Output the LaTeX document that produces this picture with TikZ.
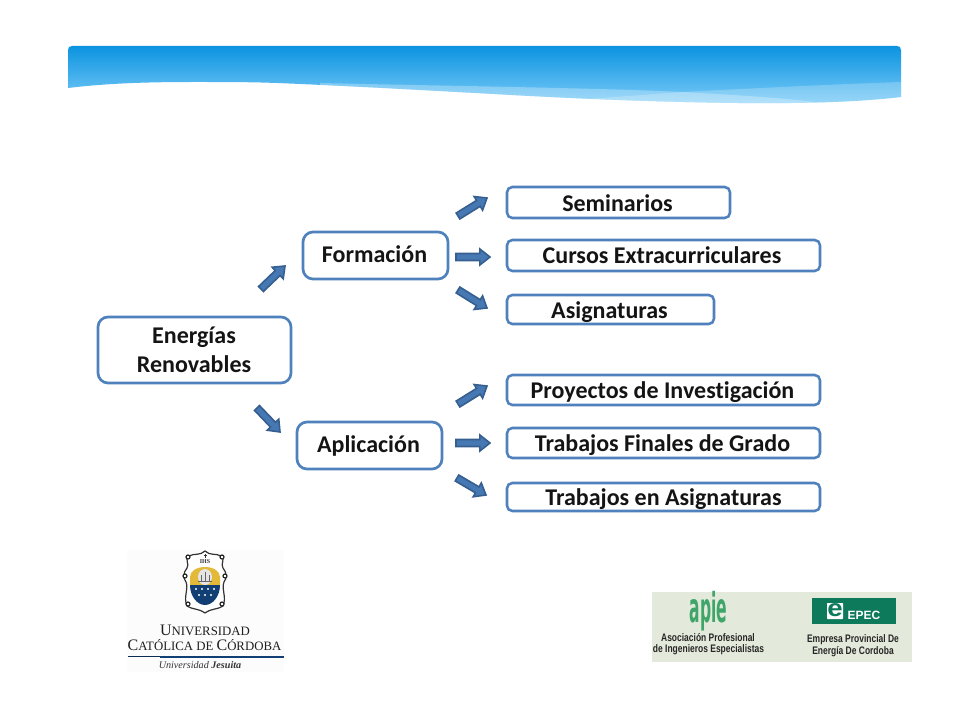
\documentclass[tikz,border=0pt]{standalone}
\usepackage{fontspec}
\setmainfont[Ligatures=NoCommon]{Carlito}
\newfontfamily\serifsc{Liberation Serif}
\newfontfamily\logosans{Liberation Sans}
\newfontfamily\logoheavy{DejaVu Sans}
\usetikzlibrary{calc,shadings}
\definecolor{boxblue}{HTML}{4F81BD}
\definecolor{arrowline}{HTML}{365F8F}
\definecolor{arrowfill}{HTML}{4678B4}
\definecolor{hdrtop}{HTML}{0B93E0}
\definecolor{hdrbot}{HTML}{7ACBF8}
\definecolor{logobg}{HTML}{E4EADB}
\definecolor{apiegreen}{HTML}{3FA568}
\definecolor{epecgreen}{HTML}{0E7A5C}
\definecolor{navy}{HTML}{123F73}
\definecolor{gold}{HTML}{E3B93A}
\tikzset{
  px/.style={x=0.75pt,y=-0.75pt},
  rbox/.style={draw=boxblue,line width=2pt,fill=white,rounded corners=7.5pt,inner sep=0pt,outer sep=0pt},
  sbox/.style={rbox,rounded corners=4pt,line width=1.9pt},
  lbl/.style={font=\fontsize{18}{21.7}\selectfont\bfseries,text=black!92,inner sep=0pt},
  blockfill/.style={draw=arrowline,line width=1.2pt,fill=arrowfill},
  logotxt/.style={font=\logosans\bfseries\fontsize{8.2}{9}\selectfont,text=black!85,inner sep=0pt,xscale=0.775},
}
% block arrow between two named coordinates
\newcommand{\blockarrow}[2]{%
  \path let \p1=($(#2)-(#1)$),\n1={atan2(\y1,\x1)},\n2={veclen(\x1,\y1)} in
    [shift={(#1)}]
    [rotate=\n1]
    coordinate (ba1) at (0pt,2.6pt)
    coordinate (ba2) at ({\n2-7.6pt},2.6pt)
    coordinate (ba3) at ({\n2-7.6pt},6pt)
    coordinate (ba4) at (\n2,0pt)
    coordinate (ba5) at ({\n2-7.6pt},-6pt)
    coordinate (ba6) at ({\n2-7.6pt},-2.6pt)
    coordinate (ba7) at (0pt,-2.6pt);
  \draw[blockfill,line join=miter] (ba1)--(ba2)--(ba3)--(ba4)--(ba5)--(ba6)--(ba7)--cycle;
}
\newcommand{\pxbox}[6]{% name,x1,y1,x2,y2,style
  \node[#6,minimum width={(#4-#2)*0.75pt},minimum height={(#5-#3)*0.75pt},anchor=north west] (#1) at (#2,#3) {};
}
\newcommand{\hdrpath}{(68,88) .. controls (110,83) and (150,82) .. (195,82)
  .. controls (225,82) and (250,82) .. (277,83)
  .. controls (350,86) and (420,90) .. (494,94)
  .. controls (580,99) and (660,102) .. (737,103)
  .. controls (790,103.5) and (850,103) .. (901,97)
  -- (901,50) .. controls (901,47.5) and (899.5,46) .. (897,46) -- (72,46)
  .. controls (69.5,46) and (68,47.5) .. (68,50) -- cycle}
\begin{document}
\begin{tikzpicture}[px]
\useasboundingbox (0,0) rectangle (960,720);
\fill[white] (0,0) rectangle (960,720);

% header band
\path[top color=hdrtop,bottom color=hdrbot] \hdrpath;
\begin{scope}
\clip \hdrpath;
\fill[white,opacity=0.28] (320,83) .. controls (450,86) and (600,88) .. (683,92)
  .. controls (730,95) and (780,97) .. (830,104) -- (320,110) -- cycle;
\fill[white,opacity=0.22] (560,101) -- (683,92) .. controls (760,88) and (840,84) .. (901,82) -- (901,110) -- (560,110) -- cycle;
\end{scope}

% boxes
\pxbox{ener}{98}{317}{291}{383}{rbox}
\pxbox{form}{303}{232}{448}{279}{rbox}
\pxbox{apli}{297}{422}{442}{469}{rbox}
\pxbox{semi}{507}{187}{730}{218}{sbox}
\pxbox{curs}{507}{240}{820}{271}{sbox}
\pxbox{asig}{507}{295}{714}{324}{sbox}
\pxbox{proy}{507}{375}{820}{405}{sbox}
\pxbox{tfin}{507}{428}{820}{458}{sbox}
\pxbox{tasi}{507}{483}{820}{511}{sbox}

\node[lbl,align=center] at ($(ener.center)+(-0.5,0)$) {Energías\\Renovables};
\node[lbl] at ($(form.center)+(-1,-1)$) {Formación};
\node[lbl] at ($(apli.center)+(-1,0)$) {Aplicación};
\node[lbl] at ($(semi.center)+(-1,1)$) {Seminarios};
\node[lbl] at ($(curs.center)+(-1.5,0)$) {Cursos Extracurriculares};
\node[lbl] at ($(asig.center)+(-1,2.5)$) {Asignaturas};
\node[lbl] at ($(proy.center)+(-1,2)$) {Proyectos de Investigación};
\node[lbl] at ($(tfin.center)+(-1,2)$) {Trabajos Finales de Grado};
\node[lbl] at ($(tasi.center)+(0,2)$) {Trabajos en Asignaturas};

% arrows
\coordinate (a1s) at (261,289); \coordinate (a1e) at (285,266);
\coordinate (a2s) at (257,408); \coordinate (a2e) at (280,432);
\coordinate (b1s) at (458,216); \coordinate (b1e) at (487,198);
\coordinate (b2s) at (456,257); \coordinate (b2e) at (490,257);
\coordinate (b3s) at (458,290); \coordinate (b3e) at (487,308);
\coordinate (c1s) at (458,404); \coordinate (c1e) at (487,386);
\coordinate (c2s) at (456,443); \coordinate (c2e) at (490,443);
\coordinate (c3s) at (457,478); \coordinate (c3e) at (486,495);
\blockarrow{a1s}{a1e}\blockarrow{a2s}{a2e}
\blockarrow{b1s}{b1e}\blockarrow{b2s}{b2e}\blockarrow{b3s}{b3e}
\blockarrow{c1s}{c1e}\blockarrow{c2s}{c2e}\blockarrow{c3s}{c3e}

% UCC logo
\fill[black!1] (127,550) rectangle (284,672);
\draw[black!80,line width=0.9pt,fill=white]
  (205,551) .. controls (200,556) and (194,553) .. (189,556)
  .. controls (184,559) and (190,564) .. (187,568)
  .. controls (183,573) and (183,578) .. (186,582)
  .. controls (189,590) and (183,596) .. (187,606)
  .. controls (193,610) and (198,608) .. (205,613)
  .. controls (212,608) and (217,610) .. (223,606)
  .. controls (227,596) and (221,590) .. (224,582)
  .. controls (227,578) and (227,573) .. (223,568)
  .. controls (220,564) and (226,559) .. (221,556)
  .. controls (216,553) and (210,556) .. (205,551) -- cycle;
\foreach \cx/\cy in {188/557,222/557,185/576,225/576,188/604,222/604}
  \draw[black!85,line width=0.9pt,fill=white] (\cx,\cy) circle (2);
\fill[gold] (190,585) -- (190,577) .. controls (190,571) and (197,567) .. (205,567)
  .. controls (213,567) and (220,571) .. (220,577) -- (220,585) -- cycle;
\fill[black!10] (205,577) ellipse (7 and 8);
\draw[black!60,line width=0.4pt] (198,581) -- (212,581) (201,575) -- (201,581) (205,572) -- (205,581) (209,575) -- (209,581);
\fill[navy] (190,585) -- (220,585) .. controls (220,596) and (213,605) .. (205,605)
  .. controls (197,605) and (190,596) .. (190,585) -- cycle;
\foreach \sx/\sy in {196/589,202/589,208/589,214/589,199/595,205/595,211/595}
  \fill[white] (\sx,\sy) circle (1.2);
\node[font=\serifsc\bfseries\fontsize{4.5}{5}\selectfont,inner sep=0pt,text=black!80] at (205,562) {IHS};
\draw[black!80,line width=0.5pt] (205,553.5) -- (205,558) (203.5,555) -- (206.5,555);
\node[font=\serifsc,inner sep=0pt,text=black!88] (uni) at (205,630)
  {{\fontsize{12}{13}\selectfont U}{\fontsize{9.6}{13}\selectfont NIVERSIDAD}};
\node[font=\serifsc,inner sep=0pt,text=black!88] (cat) at (204.5,645.5)
  {{\fontsize{12}{13}\selectfont C}{\fontsize{9.6}{13}\selectfont ATÓLICA DE }{\fontsize{12}{13}\selectfont C}{\fontsize{9.6}{13}\selectfont ÓRDOBA}};
\fill[navy!70!black] (128,656.3) rectangle (160,657.3);
\fill[navy] (160,655.8) rectangle (284,657.8);
\node[font=\serifsc\itshape\fontsize{7.6}{10}\selectfont,inner sep=0pt,text=black!80] at (200,665.5) {Universidad \textbf{Jesuita}};

% APIE / EPEC logos
\fill[logobg] (652,592) rectangle (912,662);
\node[font=\logoheavy\bfseries\fontsize{22}{22}\selectfont,text=apiegreen,inner sep=0pt,xscale=0.53,yscale=1.4] (apie) at (708.5,611) {apie};
\node[logotxt] at (708,638) {Asociación Profesional};
\node[logotxt] at (708.5,650) {de Ingenieros Especialistas};
\fill[epecgreen] (812,598) rectangle (896,624);
\fill[white,rounded corners=0.5pt] (827,603) rectangle (843,619);
\node[font=\logosans\bfseries\fontsize{18}{18}\selectfont,text=epecgreen,inner sep=0pt,xscale=1.15] at (835,610) {e};
\node[font=\logosans\bfseries\fontsize{9}{10}\selectfont,text=white,inner sep=0pt] at (864,615) {EPEC};
\node[logotxt] at (853,640) {Empresa Provincial De};
\node[logotxt] at (853,652) {Energía De Cordoba};
\end{tikzpicture}
\end{document}
